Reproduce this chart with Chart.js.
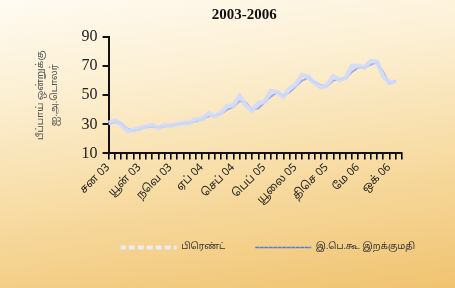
<!DOCTYPE html>
<html>
<head>
<meta charset="utf-8">
<script src="https://cdn.jsdelivr.net/npm/chart.js@4"></script>
<style>
  html, body { margin: 0; padding: 0; }
  body {
    width: 455px; height: 288px; overflow: hidden;
    background: linear-gradient(172deg, #fffbf2 0%, #fcefd2 28%, #f7dba2 62%, #f0c370 100%);
  }
  canvas { display: block; }
</style>
</head>
<body>
<canvas id="chart" width="455" height="288"></canvas>
<script>
// months Jan 03 .. Dec 06
const monthNames = ['சன', 'பெப்', 'மார்', 'ஏப்', 'மே', 'யூன்', 'யூலை', 'ஓக', 'செப்', 'ஒக்', 'நவெ', 'திசெ'];
const years = ['03', '04', '05', '06'];
const categories = [];
years.forEach(y => monthNames.forEach(m => categories.push(m + ' ' + y)));

// US$ per barrel (Dec 06 not plotted)
const brent = [
  31, 32.5, 30, 25.5, 26, 27.5, 28.5, 29.5, 27.5, 29.5, 29, 30,
  31, 31, 33.5, 33.5, 37.5, 35.5, 38, 42.5, 43, 49.5, 43, 39.5,
  44.5, 45.5, 53, 52, 49, 54.5, 57.5, 64, 62.5, 58.5, 55.5, 57,
  63, 60.5, 62, 70, 70, 69, 73.5, 73, 63, 58.5, 59.5, null
];
const cpcImport = [
  30, 31.5, 31, 27, 25.5, 26.5, 28, 28.5, 28, 28.5, 29.5, 30,
  30.5, 31, 32, 33.5, 35.5, 36, 37, 40, 42, 46, 45, 40,
  41, 45, 49, 52, 49.5, 52, 56, 60, 62, 59, 57, 56,
  60, 61, 61.5, 66, 69, 69, 71, 72.5, 66, 58, 60, null
];
const yTicks = [10, 30, 50, 70, 90];
const labelEvery = 5;
const chartTitle = '2003-2006';

const tamil = "'Noto Sans Tamil', 'Noto Serif Tamil', 'Lohit Tamil', sans-serif";
const serif = "'Liberation Serif', 'DejaVu Serif', serif";

const legendStyle = [
  { color: 'rgba(232,236,252,0.95)', width: 4, dash: [5, 4] },
  { color: '#4f7be8', width: 1.6, dash: [3, 1.5] }
];

// title sits a little left of the plot centre in the original
const titlePlugin = {
  id: 'offsetTitle',
  afterDraw(chart) {
    const ctx = chart.ctx;
    const area = chart.chartArea;
    ctx.save();
    ctx.font = 'bold 15px ' + serif;
    ctx.fillStyle = '#111';
    ctx.textAlign = 'center';
    ctx.textBaseline = 'middle';
    ctx.fillText(chartTitle, (area.left + area.right) / 2 - 11, area.top - 22);
    ctx.restore();
  }
};

new Chart(document.getElementById('chart'), {
  type: 'line',
  data: {
    labels: categories,
    datasets: [
      {
        label: 'பிரெண்ட்',
        data: brent,
        borderColor: 'rgba(208,218,248,0.9)',
        borderWidth: 4.5,
        pointRadius: 0,
        tension: 0
      },
      {
        label: 'இ.பெ.கூ. இறக்குமதி',
        data: cpcImport,
        borderColor: '#9ba8ec',
        borderWidth: 1.8,
        pointRadius: 0,
        tension: 0
      }
    ]
  },
  options: {
    responsive: false,
    animation: false,
    layout: { padding: { left: 30, right: 10, top: 37, bottom: 26 } },
    plugins: {
      title: { display: false },
      legend: {
        position: 'bottom',
        align: 'end',
        labels: {
          boxWidth: 56,
          boxHeight: 0,
          padding: 30,
          color: '#333',
          font: { family: tamil, size: 9 },
          generateLabels(chart) {
            return chart.data.datasets.map((ds, i) => ({
              text: ds.label,
              fillStyle: 'rgba(0,0,0,0)',
              strokeStyle: legendStyle[i].color,
              lineWidth: legendStyle[i].width,
              lineDash: legendStyle[i].dash,
              fontColor: '#333',
              datasetIndex: i
            }));
          }
        }
      },
      tooltip: { enabled: false }
    },
    scales: {
      x: {
        border: { color: '#111', width: 2 },
        grid: { drawOnChartArea: false, color: '#000', tickLength: 6, lineWidth: 1.6 },
        ticks: {
          autoSkip: false,
          maxRotation: 45,
          minRotation: 45,
          padding: 2,
          color: '#222',
          font: { family: tamil, size: 11 },
          callback(val, idx) { return idx % labelEvery === 0 ? categories[idx] : ''; }
        },
        afterFit(scale) { scale.height += 4; }
      },
      y: {
        min: 10,
        max: 90,
        afterBuildTicks(scale) { scale.ticks = yTicks.map(v => ({ value: v })); },
        border: { color: '#111', width: 2 },
        grid: { drawOnChartArea: false, color: '#111', tickLength: 6, lineWidth: 2 },
        ticks: {
          padding: 5,
          color: '#222',
          font: { family: serif, size: 16 }
        },
        title: {
          display: true,
          text: ['பீப்பாய் ஒன்றுக்கு', 'ஐ.அ.டொலர்'],
          color: '#555',
          font: { family: tamil, size: 9.5, lineHeight: 1.45 },
          padding: { top: 4, bottom: 15 }
        }
      },
      // keeps the plot's right edge where the original has it
      spacer: {
        position: 'right',
        display: true,
        grid: { display: false },
        border: { display: false },
        ticks: { display: false },
        afterFit(scale) { scale.width = 43; }
      }
    }
  },
  plugins: [titlePlugin]
});
</script>
</body>
</html>
